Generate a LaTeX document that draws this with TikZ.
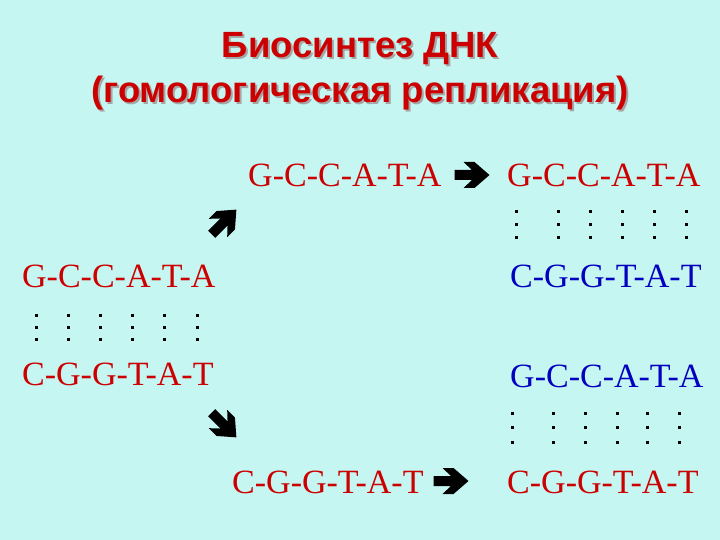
\documentclass[tikz,border=0pt]{standalone}
\usepackage{fontspec}
\setmainfont{Liberation Serif}
\newfontfamily\headfont{Liberation Sans}
\definecolor{bgcyan}{RGB}{198,246,242}
\definecolor{seqred}{RGB}{204,0,0}
\definecolor{seqblue}{RGB}{0,0,190}
\tikzset{ s/.style = { anchor     = base west
                     , inner sep  = 0pt
                     , text       = seqred
                     , font       = \fontsize{34}{34}\selectfont
                     },
          b/.style = { s
                     , text = seqblue
                     },
          h/.style = { anchor    = base
                     , inner sep = 0pt
                     , text      = seqred
                     , font      = \headfont\bfseries\fontsize{36.5}{36.5}\selectfont
                     },
          hs/.style = { h
                      , text = black!35
                      },
          harrow/.pic = { \fill[black] (-17.5,5) -- (0,5) -- (-8.5,13) -- (2.5,13)
                                  -- (17.5,0) -- (2.5,-13) -- (-8.5,-13)
                                  -- (0,-5) -- (-17.5,-5) -- cycle; }
        }

\begin{document}
\begin{tikzpicture}[x=1pt,y=1pt]
  \fill[bgcyan] (0,0) rectangle (720,-540);
  \useasboundingbox (0,0) rectangle (720,-540);
  % title with shadow
  \node[hs] (t1s) at (362,-60)  {Биосинтез ДНК};
  \node[h]  (t1)  at (360,-58)  {Биосинтез ДНК};
  \node[hs] (t2s) at (362,-105) {(гомологическая репликация)};
  \node[h]  (t2)  at (360,-103) {(гомологическая репликация)};
  % parent duplex
  \node[s] (p1) at (22,-287) {G-C-C-A-T-A};
  \node[s] (p2) at (22,-385) {C-G-G-T-A-T};
  % separated strands
  \node[s] (up)   at (248,-187) {G-C-C-A-T-A};
  \node[s] (down) at (232,-493) {C-G-G-T-A-T};
  % daughter duplexes
  \node[s] (d1) at (507,-187) {G-C-C-A-T-A};
  \node[b] (n1) at (510,-287) {C-G-G-T-A-T};
  \node[b] (n2) at (510,-387) {G-C-C-A-T-A};
  \node[s] (d2) at (507,-493) {C-G-G-T-A-T};
  % hydrogen bonds
  \foreach \x in {36,68,100,132,164,197}
    \foreach \y in {315,327,339}
      \fill[black] (\x-1.5,-\y-1.5) rectangle ++(3,3);
  \foreach \x in {516,558,590,622,654,686}
    \foreach \y in {212,225,237}
      \fill[black] (\x-1.5,-\y-1.5) rectangle ++(3,3);
  \foreach \x in {512,553,585,617,647,679}
    \foreach \y in {413,427,442}
      \fill[black] (\x-1.5,-\y-1.5) rectangle ++(3,3);
  % arrows
  \pic[rotate=45]  at (224,-222) {harrow};
  \pic[rotate=-45] at (224,-425) {harrow};
  \pic at (472,-175) {harrow};
  \pic at (451,-481) {harrow};
\end{tikzpicture}
\end{document}
